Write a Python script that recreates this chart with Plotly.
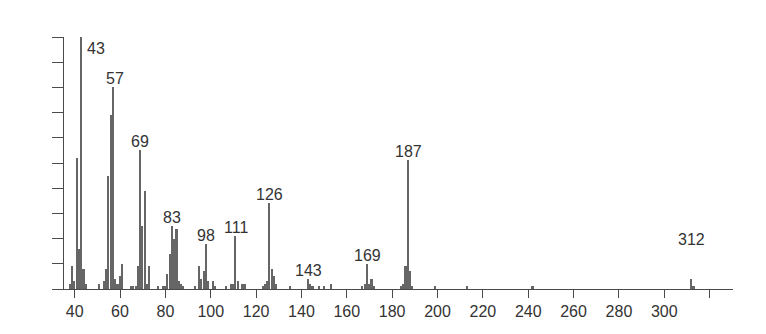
import plotly.graph_objects as go

# m/z values and relative intensities (%)
mz = [38, 39, 40, 41, 42, 43, 44, 45,
      51, 53, 54, 55, 56, 57, 58, 59, 60, 61,
      65, 66, 67, 68, 69, 70, 71, 72, 73,
      77, 79, 80, 81, 82, 83, 84, 85, 86, 87, 88,
      93, 95, 96, 97, 98, 99, 101, 102,
      107, 109, 110, 111, 112, 114, 115,
      123, 124, 125, 126, 127, 128, 129,
      135, 143, 144, 145, 148, 150, 153,
      167, 168, 169, 170, 171, 172,
      184, 185, 186, 187, 188, 189,
      199, 213, 242, 312, 313]
intensity = [2, 9, 3, 52, 16, 100, 8, 2,
             2, 3, 8, 45, 69, 80, 4, 2, 5, 10,
             1, 1, 1, 9, 55, 25, 39, 2, 9,
             1, 1, 1, 6, 14, 25, 20, 24, 3, 2, 1,
             1, 9, 4, 7, 18, 3, 3, 1,
             1, 2, 2, 21, 3, 2, 2,
             1, 2, 3, 34, 8, 5, 2,
             1, 4, 2, 1, 1, 1, 2,
             1, 2, 10, 2, 4, 1,
             1, 2, 9, 51, 7, 1,
             1, 1, 1, 4, 1]

label_mz = [43, 57, 69, 83, 98, 111, 126, 143, 169, 187, 312]

x_tickvals = [40, 60, 80, 100, 120, 140, 160, 180, 200, 220, 240, 260, 280, 300, 320]
x_ticktext = ["40", "60", "80", "100", "120", "140", "160", "180", "200", "220",
              "240", "260", "280", "300", ""]
y_tickvals = [0, 10, 20, 30, 40, 50, 60, 70, 80, 90, 100]

FONT = "Liberation Sans, Arial, Helvetica, sans-serif"
AX = "#4a4a4a"

fig = go.Figure()
fig.add_trace(go.Bar(x=mz, y=intensity, width=0.7,
                     marker=dict(color="#666666", line=dict(width=0)),
                     hoverinfo="x+y"))

lookup = dict(zip(mz, intensity))
for m in label_mz:
    v = lookup[m]
    if m == 43:
        fig.add_annotation(x=m, y=v, text=str(m), showarrow=False,
                           xanchor="left", yanchor="top", xshift=4, yshift=-1)
    elif m == 312:
        fig.add_annotation(x=m, y=v, text=str(m), showarrow=False,
                           xanchor="center", yanchor="bottom", yshift=29)
    else:
        fig.add_annotation(x=m, y=v, text=str(m), showarrow=False,
                           xanchor="center", yanchor="bottom", yshift=-2,
                           xshift=2 if m == 57 else 0)

fig.update_layout(
    width=766, height=334,
    margin=dict(l=64, r=33, t=37, b=45),
    paper_bgcolor="white", plot_bgcolor="white",
    showlegend=False, bargap=0,
    font=dict(family=FONT, size=16, color="#333333"),
)
fig.update_xaxes(range=[35.3, 330.3], tickvals=x_tickvals, ticktext=x_ticktext,
                 ticks="outside", ticklen=8, tickwidth=1.2, tickcolor=AX,
                 showline=True, linecolor=AX, linewidth=1.2,
                 showgrid=False, zeroline=False,
                 tickfont=dict(family=FONT, size=16, color="#333333"))
fig.update_yaxes(range=[0, 100], tickvals=y_tickvals, showticklabels=False,
                 ticks="outside", ticklen=11, tickwidth=1.2, tickcolor=AX,
                 showline=True, linecolor=AX, linewidth=1.2,
                 showgrid=False, zeroline=False)

fig.write_html("out.html")
